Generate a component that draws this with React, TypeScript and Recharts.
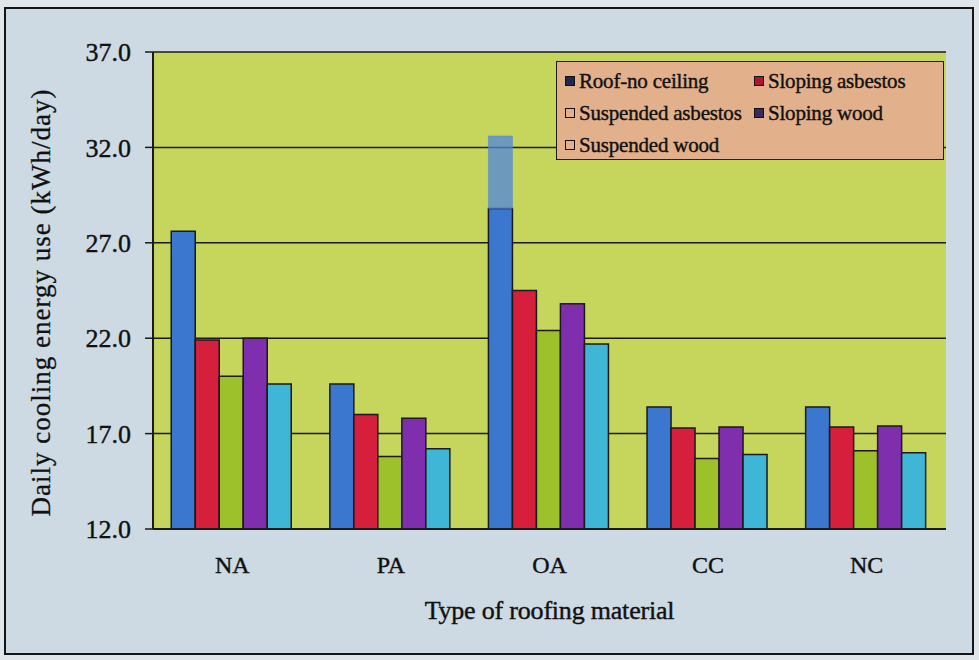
import { Bar, BarChart, CartesianGrid, Label, XAxis, YAxis } from "recharts";

const CATEGORIES = ["NA", "PA", "OA", "CC", "NC"];

const SERIES_NAMES = [
  "Roof-no ceiling",
  "Sloping asbestos",
  "Suspended asbestos",
  "Sloping wood",
  "Suspended wood",
];

const ROOF_NO_CEILING = [27.6, 19.6, 28.8, 18.4, 18.4];
const SLOPING_ASBESTOS = [21.9, 18.0, 24.5, 17.3, 17.35];
const SUSPENDED_ASBESTOS = [20.0, 15.8, 22.4, 15.7, 16.1];
const SLOPING_WOOD = [22.0, 17.8, 23.8, 17.35, 17.4];
const SUSPENDED_WOOD = [19.6, 16.2, 21.7, 15.9, 16.0];
// smeared print above the OA roof-no-ceiling bar
const SMUDGE = [0, 0, 3.8, 0, 0];

const Y_TICKS = [12, 17, 22, 27, 32, 37];

const BAR_COLORS = ["#3b76cf", "#d61f3c", "#9dc12b", "#7f2fae", "#3fb6d6"];
const MARKER_COLORS = ["#1c2a52", "#a8192e", "#e3b08c", "#3b2a5e", "#e3b08c"];

const FONT = '"Liberation Serif", "Times New Roman", serif';
const INK = "#111";

const data = CATEGORIES.map((name, i) => ({
  name,
  s0: ROOF_NO_CEILING[i],
  smudge: SMUDGE[i],
  s1: SLOPING_ASBESTOS[i],
  s2: SUSPENDED_ASBESTOS[i],
  s3: SLOPING_WOOD[i],
  s4: SUSPENDED_WOOD[i],
}));

function LegendBox() {
  const rows = [
    [0, 1],
    [2, 3],
    [4],
  ];
  return (
    <div
      style={{
        position: "absolute",
        left: 556,
        top: 61,
        width: 388,
        height: 99,
        boxSizing: "border-box",
        background: "#e3b08c",
        border: "1.5px solid #1a1a1a",
        fontFamily: FONT,
        fontSize: 21,
        color: INK,
        WebkitTextStroke: "0.4px #111",
        padding: "3px 0 0 8px",
      }}
    >
      {rows.map((row, r) => (
        <div key={r} style={{ display: "flex", height: 32, alignItems: "center" }}>
          {row.map((idx) => (
            <div
              key={idx}
              style={{ display: "flex", alignItems: "center", width: 198, letterSpacing: -0.2 }}
            >
              <span
                style={{
                  display: "inline-block",
                  width: 8,
                  height: 8,
                  border: "1.5px solid #111",
                  background: MARKER_COLORS[idx],
                  marginRight: 4,
                }}
              />
              {SERIES_NAMES[idx]}
            </div>
          ))}
        </div>
      ))}
    </div>
  );
}

export default function App() {
  return (
    <div
      style={{
        position: "absolute",
        left: 0,
        top: 0,
        width: 979,
        height: 660,
        background: "#dfe5e8",
      }}
    >
      <div
        style={{
          position: "absolute",
          left: 4,
          top: 7,
          width: 970,
          height: 648,
          boxSizing: "border-box",
          border: "2px solid #151515",
          background: "#cddae3",
        }}
      />
      <div style={{ position: "absolute", left: 0, top: 0 }}>
        <BarChart
          width={979}
          height={660}
          data={data}
          margin={{ top: 52, right: 33, left: 0, bottom: 0 }}
          barCategoryGap="11.5%"
          barGap={0}
        >
          <CartesianGrid
            vertical={false}
            fill="#c6d65c"
            fillOpacity={1}
            stroke="#1a1a1a"
            strokeWidth={1.5}
          />
          <XAxis
            dataKey="name"
            height={131}
            axisLine={{ stroke: "#1a1a1a", strokeWidth: 2 }}
            tickLine={false}
            tickMargin={21}
            tick={{ fontFamily: FONT, fontSize: 24, fill: INK, stroke: INK, strokeWidth: 0.4 }}
          >
            <Label
              content={({ viewBox }: any) => (
                <text
                  x={viewBox.x + viewBox.width / 2}
                  y={viewBox.y + 84}
                  textAnchor="middle"
                  dominantBaseline="middle"
                  fontFamily={FONT}
                  fontSize={26}
                  letterSpacing={-0.2}
                  fill={INK}
                  stroke={INK}
                  strokeWidth={0.4}
                >
                  Type of roofing material
                </text>
              )}
            />
          </XAxis>
          <YAxis
            width={153}
            domain={[12, 37]}
            ticks={Y_TICKS}
            interval={0}
            allowDataOverflow
            axisLine={{ stroke: "#1a1a1a", strokeWidth: 2 }}
            tickLine={{ stroke: "#1a1a1a", strokeWidth: 1.5 }}
            tickSize={8}
            tickMargin={14}
            tickFormatter={(v: number) => v.toFixed(1)}
            tick={{ fontFamily: FONT, fontSize: 26, fill: INK, stroke: INK, strokeWidth: 0.4 }}
          >
            <Label
              content={({ viewBox }: any) => {
                const cx = viewBox.x + 44;
                const cy = viewBox.y + viewBox.height / 2 + 12;
                return (
                  <text
                    x={cx}
                    y={cy}
                    transform={`rotate(-90 ${cx} ${cy})`}
                    textAnchor="middle"
                    dominantBaseline="middle"
                    fontFamily={FONT}
                    fontSize={27}
                    letterSpacing={1}
                    fill={INK}
                    stroke={INK}
                    strokeWidth={0.3}
                  >
                    Daily cooling energy use (kWh/day)
                  </text>
                );
              }}
            />
          </YAxis>
          <YAxis
            yAxisId="frame"
            orientation="right"
            width={0}
            tick={false}
            tickLine={false}
            axisLine={{ stroke: "#1a1a1a", strokeWidth: 2 }}
          />
          <Bar
            dataKey="s0"
            name={SERIES_NAMES[0]}
            stackId="roof"
            fill={BAR_COLORS[0]}
            stroke="#1a1a1a"
            strokeWidth={1.5}
            isAnimationActive={false}
          />
          <Bar
            dataKey="smudge"
            stackId="roof"
            legendType="none"
            fill="#4f86dc"
            fillOpacity={0.75}
            stroke="#4f86dc"
            strokeOpacity={0.5}
            isAnimationActive={false}
          />
          <Bar
            dataKey="s1"
            name={SERIES_NAMES[1]}
            fill={BAR_COLORS[1]}
            stroke="#1a1a1a"
            strokeWidth={1.5}
            isAnimationActive={false}
          />
          <Bar
            dataKey="s2"
            name={SERIES_NAMES[2]}
            fill={BAR_COLORS[2]}
            stroke="#1a1a1a"
            strokeWidth={1.5}
            isAnimationActive={false}
          />
          <Bar
            dataKey="s3"
            name={SERIES_NAMES[3]}
            fill={BAR_COLORS[3]}
            stroke="#1a1a1a"
            strokeWidth={1.5}
            isAnimationActive={false}
          />
          <Bar
            dataKey="s4"
            name={SERIES_NAMES[4]}
            fill={BAR_COLORS[4]}
            stroke="#1a1a1a"
            strokeWidth={1.5}
            isAnimationActive={false}
          />
        </BarChart>
      </div>
      <LegendBox />
    </div>
  );
}
